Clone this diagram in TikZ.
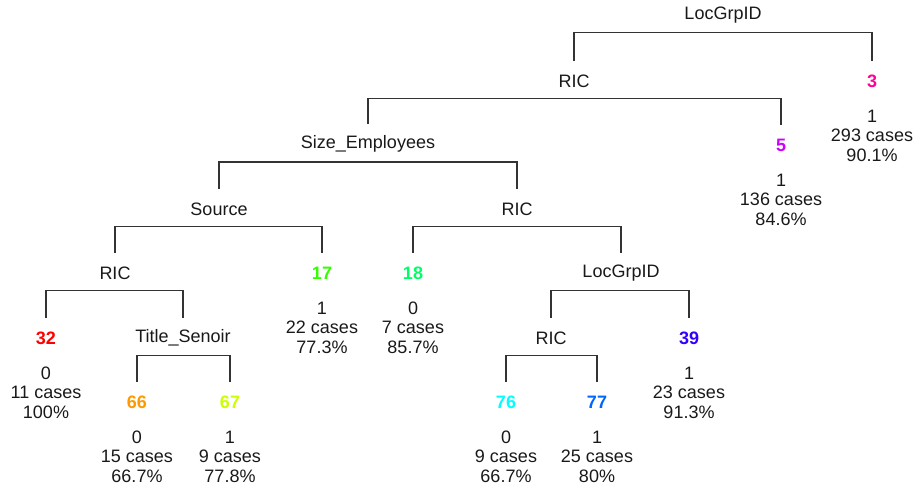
\documentclass[tikz,border=0pt]{standalone}
\usepackage{fontspec}
\setmainfont{Liberation Sans}
% leaf colours (rainbow palette)
\definecolor{lc3}{HTML}{FF0099}
\definecolor{lc5}{HTML}{CC00FF}
\definecolor{lc17}{HTML}{33FF00}
\definecolor{lc18}{HTML}{00FF66}
\definecolor{lc32}{HTML}{FF0000}
\definecolor{lc39}{HTML}{3300FF}
\definecolor{lc66}{HTML}{FF9900}
\definecolor{lc67}{HTML}{CCFF00}
\definecolor{lc76}{HTML}{00FFFF}
\definecolor{lc77}{HTML}{0066FF}
\begin{document}
\begin{tikzpicture}[x=1pt,y=-1pt,
  txt/.style={font=\fontsize{18}{19.5}\selectfont},
  split/.style={txt, minimum height=40pt, inner sep=0pt, text=black!90},
  leaf/.style={split, font=\fontsize{18}{19.5}\selectfont\bfseries},
  info/.style={txt, anchor=north, inner sep=0pt, align=center, text=black!90},
  branch/.style={draw=black!80, line width=1.1pt}]
\useasboundingbox (0,0) rectangle (917,488);

% split labels
\node[split] (s1)  at (723,15)  {LocGrpID};
\node[split] (s2)  at (574,81)  {RIC};
\node[split] (s4)  at (368,144) {Size\_Employees};
\node[split] (s8)  at (219,209) {Source};
\node[split] (s9)  at (517,209) {RIC};
\node[split] (s16) at (115,273) {RIC};
\node[split] (s19) at (621,273) {LocGrpID};
\node[split] (s33) at (183,338) {Title\_Senoir};
\node[split] (s38) at (551,338) {RIC};

% leaves
\node[leaf, text=lc3]  (l3)  at (872,81)  {3};
\node[leaf, text=lc5]  (l5)  at (781,145) {5};
\node[leaf, text=lc17] (l17) at (322,273) {17};
\node[leaf, text=lc18] (l18) at (413,273) {18};
\node[leaf, text=lc32] (l32) at (46,338)  {32};
\node[leaf, text=lc39] (l39) at (689,338) {39};
\node[leaf, text=lc66] (l66) at (137,402) {66};
\node[leaf, text=lc67] (l67) at (230,402) {67};
\node[leaf, text=lc76] (l76) at (506,402) {76};
\node[leaf, text=lc77] (l77) at (597,402) {77};

% leaf summaries
\node[info] (i3)  at ([yshift=-8.5pt]l3.south)  {1\\293 cases\\90.1\%};
\node[info] (i5)  at ([yshift=-8.5pt]l5.south)  {1\\136 cases\\84.6\%};
\node[info] (i17) at ([yshift=-8.5pt]l17.south) {1\\22 cases\\77.3\%};
\node[info] (i18) at ([yshift=-8.5pt]l18.south) {0\\7 cases\\85.7\%};
\node[info] (i32) at ([yshift=-8.5pt]l32.south) {0\\11 cases\\100\%};
\node[info] (i39) at ([yshift=-8.5pt]l39.south) {1\\23 cases\\91.3\%};
\node[info] (i66) at ([yshift=-8.5pt]l66.south) {0\\15 cases\\66.7\%};
\node[info] (i67) at ([yshift=-8.5pt]l67.south) {1\\9 cases\\77.8\%};
\node[info] (i76) at ([yshift=-8.5pt]l76.south) {0\\9 cases\\66.7\%};
\node[info] (i77) at ([yshift=-8.5pt]l77.south) {1\\25 cases\\80\%};

% branches
\draw[branch] (s2.north)  |- ([yshift=-17.5pt]s1.center)  -| (l3.north);
\draw[branch] (s4.north)  |- ([yshift=-17.5pt]s2.center)  -| (l5.north);
\draw[branch] (s8.north)  |- ([yshift=-18pt]s4.center)    -| (s9.north);
\draw[branch] (s16.north) |- ([yshift=-17.5pt]s8.center)  -| (l17.north);
\draw[branch] (l18.north) |- ([yshift=-17.5pt]s9.center)  -| (s19.north);
\draw[branch] (l32.north) |- ([yshift=-17.5pt]s16.center) -| (s33.north);
\draw[branch] (s38.north) |- ([yshift=-17.5pt]s19.center) -| (l39.north);
\draw[branch] (l66.north) |- ([yshift=-17.5pt]s33.center) -| (l67.north);
\draw[branch] (l76.north) |- ([yshift=-17.5pt]s38.center) -| (l77.north);
\end{tikzpicture}
\end{document}
